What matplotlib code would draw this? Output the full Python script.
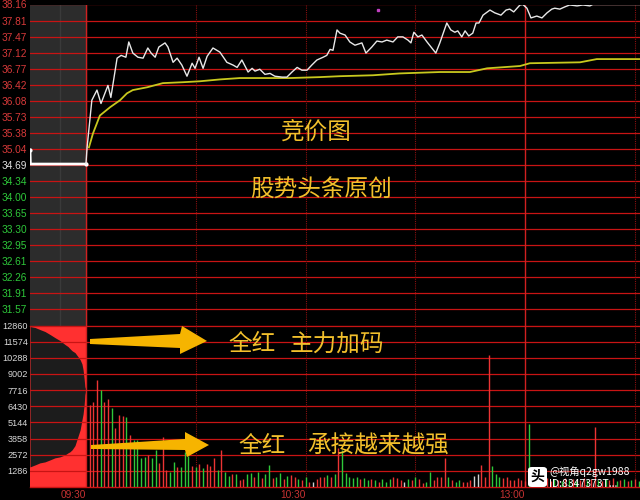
import matplotlib
matplotlib.use("Agg")
import matplotlib.pyplot as plt
from matplotlib.patches import Polygon, FancyBboxPatch
import matplotlib.transforms as mtransforms

plt.rcParams['font.family'] = ['Liberation Sans', 'Noto Sans CJK SC', 'DejaVu Sans']

# ---- data (x in minutes after 09:30, auction < 0) ----
price_t = [0.0, 0.3, 1.6, 3.0, 4.1, 6.0, 6.8, 8.5, 9.6, 10.9, 11.7, 12.8, 14.2,
           15.6, 16.9, 17.8, 18.9, 19.9, 21.6, 22.4, 23.8, 24.9, 26.2, 27.6,
           29.0, 29.8, 30.9, 32.0, 33.1, 34.7, 36.6, 38.5, 40.2, 41.3, 42.6,
           44.3, 45.4, 46.2, 47.5, 48.9, 50.3, 51.6, 53.6, 54.9, 56.3, 57.7,
           59.0, 60.4, 61.7, 63.1, 64.8, 65.8, 66.7, 67.5, 68.6, 69.4, 70.8,
           72.1, 73.5, 75.4, 76.5, 78.1, 79.5, 80.9, 82.2, 83.9, 85.2, 86.6,
           88.0, 88.8, 89.6, 90.7, 91.8, 93.2, 94.5, 95.6, 96.7, 98.6, 99.7,
           100.8, 101.6, 102.7, 103.6, 104.6, 105.7, 106.6, 107.4, 108.5,
           110.4, 111.7, 113.4, 114.8, 115.8, 116.9, 117.8, 118.6, 119.4,
           120.5, 121.6, 123.2, 124.6, 126.0, 127.3, 128.1, 129.5, 130.9,
           132.2, 134.2, 135.8, 137.7, 138.5, 151.4]
price = [34.72, 35.07, 36.09, 36.31, 36.02, 36.41, 36.15, 37.00, 37.06, 37.02,
         37.35, 37.11, 37.02, 37.00, 37.22, 37.11, 37.02, 37.24, 37.33, 37.24,
         36.91, 37.00, 36.85, 36.61, 36.89, 36.78, 37.02, 36.78, 37.04, 37.22,
         37.13, 36.91, 36.85, 36.80, 36.96, 36.70, 36.78, 36.72, 36.76, 36.65,
         36.67, 36.61, 36.59, 36.59, 36.70, 36.80, 36.74, 36.74, 36.85, 36.96,
         37.02, 37.06, 37.19, 37.17, 37.61, 37.54, 37.50, 37.35, 37.28, 37.33,
         37.11, 37.24, 37.37, 37.35, 37.39, 37.35, 37.46, 37.46, 37.39, 37.33,
         37.56, 37.46, 37.50, 37.35, 37.22, 37.11, 37.33, 37.76, 37.61, 37.56,
         37.59, 37.46, 37.59, 37.48, 37.54, 37.76, 37.76, 37.93, 38.04, 37.98,
         37.93, 38.04, 38.06, 38.00, 38.08, 38.15, 38.16, 38.08, 37.87, 37.91,
         37.87, 37.98, 38.06, 38.08, 38.06, 38.11, 38.15, 38.13, 38.15, 38.13,
         38.16, 38.16]

avg_t = [0.8, 1.9, 3.8, 6.6, 9.3, 11.2, 12.8, 16.7, 21.0, 26.5, 31.1, 36.6,
         42.1, 55.7, 63.9, 69.4, 78.4, 85.8, 96.7, 104.9, 109.6, 118.6, 121.3,
         135.0, 139.6, 151.4]
avg_price = [35.07, 35.37, 35.76, 35.94, 36.09, 36.24, 36.31, 36.37, 36.46,
             36.48, 36.50, 36.54, 36.57, 36.57, 36.59, 36.61, 36.63, 36.67,
             36.70, 36.70, 36.78, 36.83, 36.89, 36.91, 36.98, 36.98]

auction_t = [-15.3, -15.2, -10.0, -5.0, 0.0]
auction_price = [35.01, 34.71, 34.71, 34.71, 34.71]

# auction volume: unmatched (top edge) and matched (bottom edge)
auc_vol_t = [-15.3, -13.9, -12.6, -11.2, -9.8, -8.5, -7.1, -5.7, -4.9, -4.4,
             -3.8, -3.0, -2.5, -1.6, -1.1, -0.8, -0.5, -0.3, 0.0]
auc_top = [12780, 12700, 12540, 12380, 12140, 11900, 11660, 11340, 11180,
           11020, 10850, 10700, 10500, 10140, 9800, 9350, 8600, 7990, 7750]
auc_bottom = [1600, 1760, 1920, 2000, 2160, 2320, 2400, 2560, 2720, 2800,
              2960, 3300, 3750, 4550, 5350, 5800, 6550, 7350, 7750]

vol_t = list(range(1, 152))
vol = [6550, 6790, 8550, 7750, 6790, 7030, 6310, 4710, 5750, 5670,
       5590, 4150, 3760, 3760, 2320, 2400, 2560, 2320, 2960, 1920,
       4000, 1360, 1200, 2000, 1600, 1600, 2800, 2480, 1680, 1600,
       1840, 1520, 1840, 1680, 2320, 1360, 2960, 1200, 880, 1040,
       1040, 560, 640, 1040, 1120, 800, 1200, 720, 1040, 1760,
       720, 800, 1120, 640, 880, 960, 800, 640, 560, 800,
       400, 400, 640, 800, 800, 960, 800, 1040, 3120, 2960,
       1120, 800, 720, 800, 640, 720, 560, 640, 560, 400,
       640, 400, 640, 800, 720, 560, 400, 640, 560, 800,
       640, 320, 400, 1200, 560, 800, 800, 2320, 800, 560,
       400, 560, 400, 400, 560, 880, 1040, 1760, 800, 10550,
       1680, 1040, 800, 720, 800, 560, 560, 720, 560, 480,
       5030, 640, 480, 800, 560, 720, 480, 640, 560, 480,
       720, 560, 640, 480, 560, 720, 560, 640, 4790, 560,
       480, 640, 560, 720, 480, 560, 640, 480, 560, 640, 480]
vol_side = ("rrrgrrgrrr" "grggggrggr" "rrggrgggrg" "rgrrrgrggr" "grrggrgrgg"
            "rggrgrrgrg" "rwrrrgrgrg" "ggggrggrgr" "gggrrrwgrg" "rrggrrrrgr"
            "ggrrrwwrrr" "gggrrrrrrr"
            "g" "rgrgrrgrgrgrgrrgr" "r" "grgrrgrgrgrg")

price_ticks = [38.16, 37.813, 37.466, 37.119, 36.772, 36.425, 36.078, 35.731,
               35.384, 35.037, 34.69, 34.343, 33.996, 33.649, 33.302, 32.955,
               32.608, 32.261, 31.914, 31.567]
price_labels = ["38.16", "37.81", "37.47", "37.12", "36.77", "36.42", "36.08",
                "35.73", "35.38", "35.04", "34.69", "34.34", "34.00", "33.65",
                "33.30", "32.95", "32.61", "32.26", "31.91", "31.57"]
vol_ticks = [12860, 11574, 10288, 9002, 7716, 6430, 5144, 3858, 2572, 1286]
vol_labels = ["12860", "11574", "10288", "9002", "7716", "6430", "5144",
              "3858", "2572", "1286"]
time_ticks = [0, 60, 120]
time_labels = ["09:30", "10:30", "13:00"]

prev_close = 34.69
xmin, xmax = -15.3, 151.4

grid_red = '#c81414'
bar_red = '#ec3434'
bar_green = '#2ec83a'
gold = '#f2c02c'

fig = plt.figure(figsize=(6.4, 5.0), dpi=100, facecolor='black')
ax_p = fig.add_axes([30 / 640, 1 - 325.5 / 500, 610 / 640, 321 / 500])
ax_v = fig.add_axes([30 / 640, 13 / 500, 610 / 640, 161.5 / 500])

for ax in (ax_p, ax_v):
    ax.set_facecolor('black')
    ax.set_xlim(xmin, xmax)
    for side in ('top', 'right', 'left'):
        ax.spines[side].set_visible(False)
    ax.spines['bottom'].set_color(grid_red)
    ax.spines['bottom'].set_linewidth(1.0)
    ax.tick_params(length=0, pad=2)
    # session lines
    for xv in (0, 120):
        ax.axvline(xv, color='#d02020', lw=1.0, zorder=2)
    for xv in (30, 60, 90, 150):
        ax.axvline(xv, color='#8a1010', lw=0.8, ls=(0, (1, 1)), zorder=2)

# ---- price panel ----
ax_p.set_ylim(31.22, 38.16)
ax_p.axvspan(xmin, 0, color='#2c2c2c', zorder=0)
ax_p.axvline(-7.1, color='#3a3a3a', lw=1.0, zorder=0.5)
for yv in price_ticks:
    ax_p.axhline(yv, color=grid_red, lw=0.9, zorder=1)
ax_p.set_yticks(price_ticks)
ax_p.set_yticklabels(price_labels, fontsize=7.3)
for lab, yv in zip(ax_p.get_yticklabels(), price_ticks):
    if yv > prev_close + 0.01:
        lab.set_color('#d83a3a')
    elif yv < prev_close - 0.01:
        lab.set_color('#2ec83a')
    else:
        lab.set_color('#e0e0e0')
ax_p.set_xticks([])

ax_p.plot(auction_t, auction_price, color='white', lw=2.0, zorder=4,
          marker='o', ms=2.0, markevery=[0, 4])
ax_p.plot(avg_t, avg_price, color='#c8c81e', lw=1.3, zorder=3)
ax_p.plot(price_t, price, color='#e8e8e8', lw=1.0, zorder=4)
ax_p.plot([79.8], [38.04], ls='none', marker='s', ms=2, color='#c040c0', zorder=5)

# ---- volume panel ----
ax_v.set_ylim(0, 12860)
ax_v.fill_between([xmin, 0.4], 0, 12860, color='#ff3030', zorder=0.5, lw=0)
ax_v.fill_between(auc_vol_t, auc_bottom, auc_top, color='#1c1c1c', zorder=0.6,
                  lw=0)
for yv in vol_ticks:
    ax_v.axhline(yv, color=grid_red, lw=0.9, zorder=1)
ax_v.set_yticks(vol_ticks)
ax_v.set_yticklabels(vol_labels, fontsize=6.6, color='#d8d8d8')
ax_v.tick_params(axis='y', pad=1.5)

side_color = {'r': bar_red, 'g': bar_green, 'w': '#d0d0d0'}
colors = [side_color[s] for s in vol_side[:len(vol)]]
ax_v.vlines(vol_t[:len(colors)], 0, vol[:len(colors)], colors=colors, lw=1.0,
            zorder=3)

ax_v.set_xticks(time_ticks)
ax_v.set_xticklabels(time_labels, fontsize=7.3, color='#c83232')
shift = mtransforms.ScaledTranslation(-13 / 100, 0, fig.dpi_scale_trans)
for lab in ax_v.get_xticklabels():
    lab.set_transform(lab.get_transform() + shift)


# ---- annotations (figure pixel coordinates) ----
def fx(px):
    return px / 640


def fy(py):
    return 1 - py / 500


cjk = ['Noto Sans CJK SC', 'DejaVu Sans']
fig.text(fx(281), fy(132), "竞价图", color=gold, fontsize=17, family=cjk,
         va='center', ha='left')
fig.text(fx(250), fy(190), "股势头条原创", color=gold, fontsize=17, family=cjk,
         va='center', ha='left')
fig.text(fx(228), fy(345), "全红", color=gold, fontsize=17, family=cjk,
         va='center', ha='left')
fig.text(fx(290), fy(345), "主力加码", color=gold, fontsize=17, family=cjk,
         va='center', ha='left')
fig.text(fx(238), fy(446), "全红", color=gold, fontsize=17, family=cjk,
         va='center', ha='left')
fig.text(fx(307), fy(446), "承接越来越强", color=gold, fontsize=17, family=cjk,
         va='center', ha='left')

arrow1 = [(90, 339), (180, 334), (182, 326), (207, 341), (180, 354),
          (180, 348), (90, 344)]
arrow2 = [(91, 445), (185, 439), (185, 432), (209, 445), (187, 457),
          (185, 450), (91, 449)]
for pts in (arrow1, arrow2):
    fig.add_artist(Polygon([(fx(a), fy(b)) for a, b in pts], closed=True,
                           transform=fig.transFigure, facecolor='#f6b400',
                           edgecolor='none', zorder=10))

# watermark
fig.add_artist(FancyBboxPatch((fx(528), fy(487)), 19 / 640, 20 / 500,
                              boxstyle='round,pad=0,rounding_size=0.006',
                              transform=fig.transFigure, facecolor='white',
                              edgecolor='none', zorder=10))
fig.text(fx(537.5), fy(477), "头", color='black', fontsize=10, family=cjk,
         ha='center', va='center', zorder=11, weight='bold')
fig.text(fx(549), fy(472), "@视角q2gw1988", color='white', fontsize=7.5,
         family=cjk, ha='left', va='center', zorder=11)
fig.text(fx(549), fy(484), "ID:8347373T...", color='white', fontsize=7.5,
         family=cjk, ha='left', va='center', zorder=11)

fig.savefig("out.png", dpi=100, facecolor='black')
